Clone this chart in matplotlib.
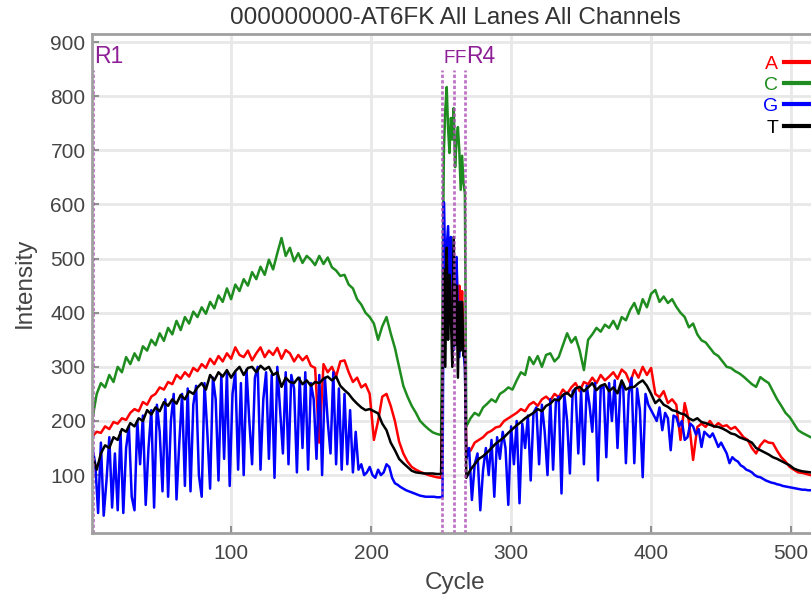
import numpy as np
import matplotlib
matplotlib.use('Agg')
import matplotlib.pyplot as plt

plt.rcParams['font.family'] = ['Liberation Sans', 'DejaVu Sans']

title = '000000000-AT6FK All Lanes All Channels'

# cycles sampled: read 1 every 3 cycles, index reads every cycle, read 4 every 3 cycles
cyc_r1 = np.arange(1, 252, 3)
cyc_idx = np.arange(252, 268)
cyc_r4 = np.arange(268, 521, 3)
# blue is much spikier, so it is read every 2 cycles
cyc_r1_g = np.arange(1, 252, 2)
cyc_r4_g = np.arange(268, 521, 2)

# A channel (red)
A_r1 = [172,180,178,190,185,198,195,205,202,215,
        222,218,235,230,245,250,262,258,272,268,
        285,278,290,282,298,292,305,298,315,305,
        320,310,325,315,336,322,318,330,312,325,
        336,318,330,322,335,315,331,325,310,322,
        312,320,302,298,160,305,290,300,282,310,
        312,290,272,280,262,268,250,165,200,245,
        250,228,200,162,140,125,115,110,106,103,
        100,98,96,95]
A_idx = [460,420,500,400,470,520,380,480,420,500,360,450,380,440,350,340]
A_r4 = [150,145,160,165,170,178,182,188,190,200,
        205,210,215,222,218,230,235,228,240,245,
        238,250,244,258,250,262,270,255,272,268,
        280,270,285,275,282,290,278,295,288,270,
        294,280,300,285,298,250,244,255,233,240,
        230,165,233,200,128,189,195,189,200,189,
        196,190,192,185,189,180,170,165,150,140,
        155,164,160,159,145,133,125,115,110,105,
        104,102,100,98,97]

# C channel (green)
C_r1 = [205,250,270,262,285,272,300,290,318,305,
        325,312,338,330,350,340,362,348,372,360,
        385,368,392,380,402,392,410,398,420,408,
        432,420,445,425,452,440,462,450,475,462,
        485,470,498,480,510,538,505,520,495,510,
        492,505,498,488,505,490,502,484,478,468,
        470,452,445,425,415,400,392,380,350,375,
        392,362,335,300,265,245,228,215,200,192,
        185,179,176,174]
C_idx = [700,775,817,740,695,760,720,778,669,720,743,700,627,690,640,620]
C_r4 = [190,205,215,210,225,232,240,235,250,255,
        262,258,275,290,285,318,305,320,300,322,
        325,310,318,340,362,345,355,330,294,350,
        360,372,365,378,372,385,370,392,386,405,
        418,398,425,410,435,442,420,430,418,425,
        411,400,392,373,380,360,349,345,335,325,
        320,310,300,298,292,288,282,275,268,263,
        281,275,270,255,240,228,215,207,195,183,
        178,174,170,167,165]

# G channel (blue)
G_r1 = [150,120,30,160,25,90,170,40,140,35,
        180,30,150,190,60,35,200,120,210,45,
        150,220,40,230,180,70,240,60,200,250,
        55,160,250,80,260,70,230,265,100,60,
        270,180,75,280,240,90,285,130,290,80,
        250,290,110,270,100,295,200,120,280,300,
        110,240,290,130,285,95,300,220,140,290,
        120,285,260,105,280,150,290,110,270,240,
        130,285,100,280,200,140,290,120,260,110,
        250,120,220,105,180,110,120,100,105,115,
        100,95,110,100,105,120,115,95,85,82,
        78,75,72,70,68,66,64,62,61,60,
        60,60,60,59,59,60]
G_idx = [604,480,520,560,430,540,480,331,460,503,400,318,420,340,330,300]
G_r4 = [130,150,54,120,140,35,110,150,100,165,
        60,170,130,180,150,45,190,120,200,48,
        195,150,210,90,215,225,120,230,180,100,
        240,110,235,245,66,250,200,103,255,260,
        140,255,120,265,230,180,270,90,260,265,
        133,270,200,275,150,260,270,122,250,280,
        122,260,220,96,250,230,220,210,200,225,
        183,215,205,146,210,207,190,200,165,170,
        195,190,175,185,152,180,175,170,177,165,
        152,160,150,140,122,133,128,125,118,115,
        110,108,105,100,97,96,93,90,88,86,
        85,83,82,80,79,78,77,76,75,74,
        73,73,72,72,71,71,71]

# T channel (black)
T_r1 = [135,110,140,155,150,170,165,185,180,196,
        190,205,200,220,212,225,218,235,228,240,
        232,248,240,255,250,262,270,258,285,275,
        290,282,294,280,292,300,285,298,300,290,
        302,295,300,285,290,263,280,272,270,280,
        268,275,265,272,270,278,282,275,282,265,
        257,250,240,232,225,220,222,218,214,195,
        183,160,146,130,122,115,108,105,104,103,
        103,103,102,102]
T_idx = [480,300,520,350,470,390,300,540,340,450,280,420,330,420,320,330]
T_r4 = [95,110,120,130,135,142,150,158,164,170,
        178,185,192,198,205,210,215,222,218,228,
        232,240,238,248,252,245,260,263,255,262,
        270,257,265,268,255,262,251,275,258,262,
        263,270,275,265,250,233,240,230,226,220,
        218,214,212,205,201,205,198,196,193,190,
        189,186,182,177,175,170,167,164,160,150,
        146,142,138,133,130,126,122,118,112,109,
        107,106,105,104,104]

read_starts = [1.5, 251, 259, 267]
read_names = ['R1', 'F', 'F', 'R4']

cycles = np.concatenate([cyc_r1, cyc_idx, cyc_r4])
cycles_g = np.concatenate([cyc_r1_g, cyc_idx, cyc_r4_g])
channels = [('A', cycles, A_r1 + A_idx + A_r4, '#ff0000'),
            ('C', cycles, C_r1 + C_idx + C_r4, '#1e8c1e'),
            ('G', cycles_g, G_r1 + G_idx + G_r4, '#0000ff'),
            ('T', cycles, T_r1 + T_idx + T_r4, '#000000')]

fig = plt.figure(figsize=(8.12, 6.0), dpi=100)
ax = fig.add_axes([92.5/812, 1-533/600, 726.6/812, (533-34)/600])

for name, xs, vals, col in channels:
    ax.plot(xs, vals, color=col, lw=1.8, label=name)

ax.vlines(read_starts, -7, 848, colors='#b050b8', linestyles=(0, (1.2, 0.8)), lw=2.0, alpha=0.8)
for x, s in zip(read_starts, read_names):
    fs = 13.5 if s == 'F' else 16.5
    ax.text(x + 0.8, 862, s, color='#8e1f96', fontsize=fs, ha='left', va='baseline')

ax.set_xlim(1, 520)
ax.set_ylim(-7, 915)
ax.set_xticks([100, 200, 300, 400, 500])
ax.set_yticks([100, 200, 300, 400, 500, 600, 700, 800, 900])
ax.grid(True, color='#e8e8e8', lw=2)
ax.set_axisbelow(True)
for sp in ax.spines.values():
    sp.set_color('#a0a0a0')
    sp.set_linewidth(2)
ax.tick_params(direction='in', length=5, width=1.5, color='#909090',
               labelcolor='#444444', labelsize=15)
ax.tick_params(axis='x', pad=8)
ax.tick_params(axis='y', pad=5)

fig.text(455/812, 1-18/600, title, ha='center', va='center', fontsize=17.5, color='#333333')
fig.text(455/812, 1-583/600, 'Cycle', ha='center', va='center', fontsize=17.5, color='#444444')
fig.text(25/812, 1-283/600, 'Intensity', ha='center', va='center', rotation=90,
         fontsize=17.5, color='#444444')

leg = ax.legend(loc='upper right', bbox_to_anchor=(823/812, 1-55/600),
                bbox_transform=fig.transFigure, frameon=False, markerfirst=False,
                fontsize=14, handlelength=2, handletextpad=0.3, labelspacing=0.19,
                borderpad=0, borderaxespad=0, labelcolor='linecolor')
for h in leg.get_lines():
    h.set_linewidth(3)

fig.savefig('out.png', dpi=100)
